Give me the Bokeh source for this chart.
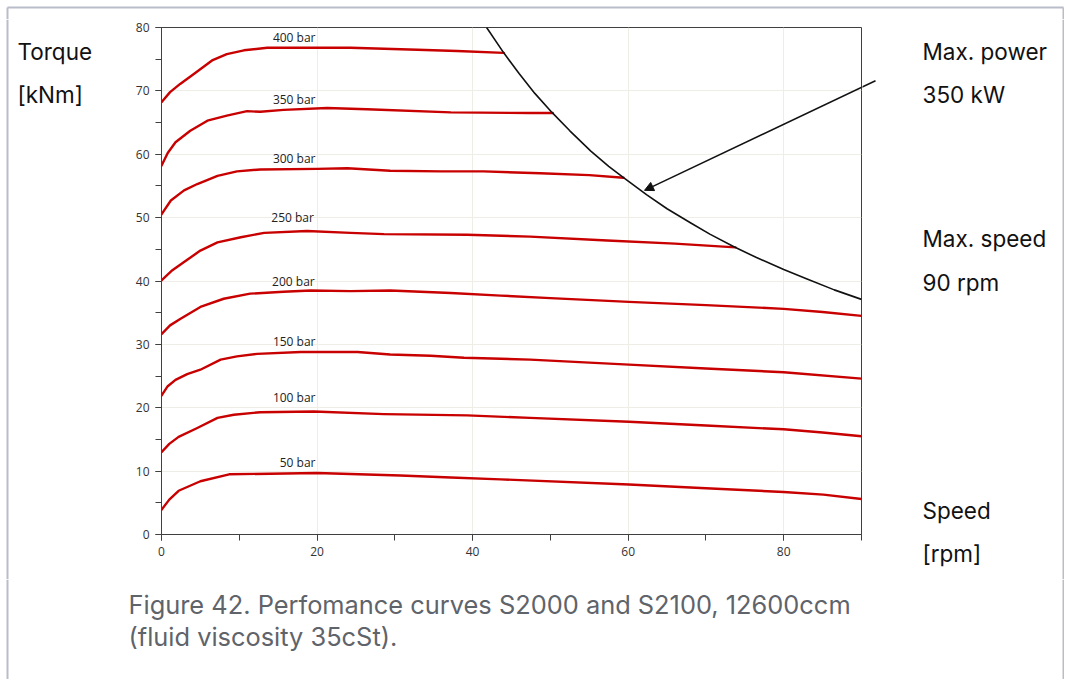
from bokeh.plotting import figure
from bokeh.layouts import column, row
from bokeh.models import Range1d, SingleIntervalTicker, Arrow, NormalHead
from bokeh.core.properties import value
from bokeh.embed import file_html
from bokeh.resources import INLINE

# ---------------- data ----------------
speed_400 = [0, 1.1, 2.4, 4.2, 6.5, 8.4, 10.6, 13.6, 18, 24.3, 32.9, 38, 44.0]
torque_400 = [68.2, 69.8, 71.1, 72.7, 74.8, 75.8, 76.4, 76.8, 76.8, 76.8, 76.5, 76.3, 76.0]

speed_350 = [0, 0.8, 1.8, 3.7, 5.9, 8.4, 11.0, 12.7, 15.7, 21.3, 26.4, 37.2, 47.4, 50.3]
torque_350 = [58.2, 60.2, 61.9, 63.7, 65.3, 66.1, 66.8, 66.7, 67.0, 67.3, 67.1, 66.6, 66.5, 66.5]

speed_300 = [0, 1.2, 2.9, 4.6, 7.2, 9.7, 12.7, 20.0, 23.9, 29.4, 35.9, 41.4, 48.7, 55, 59.4]
torque_300 = [50.5, 52.7, 54.3, 55.3, 56.6, 57.3, 57.6, 57.7, 57.8, 57.4, 57.3, 57.3, 57.0, 56.7, 56.3]

speed_250 = [0, 1.4, 2.9, 5.0, 7.2, 10.2, 13.2, 18.7, 24.3, 28.6, 39.3, 47.4, 57.3, 66, 73.8]
torque_250 = [40.1, 41.7, 43.0, 44.8, 46.1, 46.9, 47.6, 47.9, 47.6, 47.4, 47.3, 47.0, 46.4, 45.9, 45.3]

speed_200 = [0, 1.1, 2.4, 5.0, 8.0, 11.4, 15.7, 19.2, 24.3, 29.4, 37.2, 43.6, 50, 60.1, 70, 80.0, 85, 90]
torque_200 = [31.6, 33.0, 34.0, 35.9, 37.2, 38.0, 38.3, 38.5, 38.4, 38.5, 38.1, 37.7, 37.3, 36.7, 36.2, 35.6, 35.1, 34.5]

speed_150 = [0, 0.8, 1.8, 3.3, 5.0, 7.6, 9.7, 12.3, 17.9, 25.2, 29.4, 34.6, 38.9, 47.4, 60.1, 70, 80.0, 90]
torque_150 = [21.9, 23.4, 24.4, 25.3, 26.0, 27.6, 28.1, 28.5, 28.8, 28.8, 28.4, 28.2, 27.9, 27.6, 26.8, 26.2, 25.6, 24.6]

speed_100 = [0, 1.0, 2.2, 4.6, 7.2, 9.3, 12.7, 19.6, 28.6, 39.3, 47.4, 60.1, 70, 80.0, 85, 90]
torque_100 = [13.0, 14.3, 15.4, 16.8, 18.4, 18.9, 19.3, 19.4, 19.0, 18.8, 18.4, 17.8, 17.2, 16.6, 16.1, 15.5]

speed_50 = [0, 1.0, 2.2, 5.0, 8.7, 20.0, 30.7, 37.2, 43.6, 60.1, 70, 80.0, 85.1, 90]
torque_50 = [3.9, 5.5, 6.9, 8.4, 9.5, 9.7, 9.3, 9.0, 8.7, 7.9, 7.3, 6.7, 6.3, 5.6]

# max power (350 kW) limit curve
speed_power = [41.8, 44.0, 46, 48, 50.2, 52.5, 55.2, 57.5, 59.4, 62.4, 65, 68, 70.5, 73.6, 76.5, 80.0, 83, 86.5, 90]
torque_power = [80.0, 76.0, 72.7, 69.6, 66.6, 63.7, 60.5, 58.1, 56.3, 53.6, 51.4, 49.2, 47.4, 45.4, 43.7, 41.8, 40.3, 38.6, 37.1]

curve_labels = ["400 bar", "350 bar", "300 bar", "250 bar", "200 bar", "150 bar", "100 bar", "50 bar"]
label_x = [19.8, 19.8, 19.8, 19.6, 19.7, 19.8, 19.8, 19.8]
label_y = [78.4, 68.7, 59.4, 50.0, 40.0, 30.4, 21.65, 11.35]

arrow_start = (91.8, 71.6)
arrow_end = (62.1, 54.3)

x_range = (0, 90)
y_range = (0, 80)

left_texts = ["Torque", "[kNm]"]
right_texts = ["Max. power", "350 kW", "Max. speed", "90 rpm", "Speed", "[rpm]"]
caption = ["Figure 42. Perfomance curves S2000 and S2100, 12600ccm",
           "(fluid viscosity 35cSt)."]

# ---------------- layout geometry (page pixels) ----------------
TOTAL_W = 1064
TOP_H = 19
ROW_H = 560
CAP_H = 100
FRAME_L, FRAME_R, FRAME_T, FRAME_B = 161, 861, 27, 534
LEFT_W = 120
MAIN_W = FRAME_R + 1 - LEFT_W
RIGHT_W = TOTAL_W - LEFT_W - MAIN_W
BORDER_COLOR = "#b9bdc9"
BX_L, BX_R = 7, TOTAL_W - 1      # page x of left / right page border

def helper(w, h):
    f = figure(width=w, height=h, output_backend="svg", toolbar_location=None,
               x_range=Range1d(0, w), y_range=Range1d(h, 0),
               x_axis_type=None, y_axis_type=None, min_border=0)
    f.outline_line_color = None
    f.xgrid.visible = False
    f.ygrid.visible = False
    f.background_fill_color = "white"
    f.border_fill_color = "white"
    return f

# top strip with the page border
top = helper(TOTAL_W, TOP_H)
top.line([BX_L, BX_R], [7, 7], line_color=BORDER_COLOR, line_width=2)
top.line([BX_L, BX_L], [7, TOP_H], line_color=BORDER_COLOR, line_width=2)
top.line([BX_R, BX_R], [7, TOP_H], line_color=BORDER_COLOR, line_width=2)

# left text panel
left = helper(LEFT_W, ROW_H)
left.line([BX_L, BX_L], [0, ROW_H], line_color=BORDER_COLOR, line_width=2)
left.text(x=[17, 17], y=[51 - TOP_H, 94 - TOP_H], text=left_texts,
          text_font=value("Inter"), text_font_size="22.5px", text_color="#111111",
          text_align="left", text_baseline="middle")

# main chart
p = figure(width=MAIN_W, height=ROW_H, output_backend="svg", toolbar_location=None,
           x_range=Range1d(*x_range), y_range=Range1d(*y_range),
           min_border_left=FRAME_L - LEFT_W,
           min_border_right=MAIN_W - (FRAME_R - LEFT_W),
           min_border_top=FRAME_T - TOP_H,
           min_border_bottom=ROW_H - (FRAME_B - TOP_H))
p.background_fill_color = "white"
p.border_fill_color = "white"
p.outline_line_color = "#404040"
p.outline_line_width = 1

tick_font = "Open Sans"
for ax, interval in ((p.xaxis[0], 20), (p.yaxis[0], 10)):
    ax.ticker = SingleIntervalTicker(interval=interval, num_minor_ticks=2)
    ax.axis_line_color = "#404040"
    ax.major_tick_line_color = "#404040"
    ax.minor_tick_line_color = "#404040"
    ax.major_tick_in = 0
    ax.major_tick_out = 6
    ax.minor_tick_in = 0
    ax.minor_tick_out = 6
    ax.major_label_text_font = tick_font
    ax.major_label_text_font_size = "12px"
    ax.major_label_text_color = "#333333"
    ax.major_label_standoff = 6

p.xgrid.grid_line_color = "#efeee6"
p.ygrid.grid_line_color = "#efeee6"

red = "#c80000"
series = [(speed_400, torque_400), (speed_350, torque_350), (speed_300, torque_300),
          (speed_250, torque_250), (speed_200, torque_200), (speed_150, torque_150),
          (speed_100, torque_100), (speed_50, torque_50)]
for sx, ty in series:
    p.line(sx, ty, line_color=red, line_width=2.4, line_join="round", line_cap="round")

p.line(speed_power, torque_power, line_color="#111111", line_width=1.6, line_join="round")

p.text(x=label_x, y=label_y, text=curve_labels, text_font=value(tick_font),
       text_font_size="12px", text_color="#222222", text_align="right",
       text_baseline="middle")

p.add_layout(Arrow(x_start=arrow_start[0], y_start=arrow_start[1],
                   x_end=arrow_end[0], y_end=arrow_end[1],
                   line_color="#111111", line_width=1.5,
                   end=NormalHead(size=9, fill_color="#111111", line_color="#111111")))

# right text panel
right = helper(RIGHT_W, ROW_H)
rx0 = LEFT_W + MAIN_W
right.line([BX_R - rx0, BX_R - rx0], [0, ROW_H], line_color=BORDER_COLOR, line_width=2)
right_y = [51, 94, 238, 282, 510, 553]
right.text(x=[922 - rx0] * len(right_texts), y=[v - TOP_H for v in right_y],
           text=right_texts, text_font=value("Inter"), text_font_size="22.5px",
           text_color="#111111", text_align="left", text_baseline="middle")

# part of the arrow's tail that lies beyond the plot frame
def sx_page(x):
    return FRAME_L + (x - x_range[0]) / (x_range[1] - x_range[0]) * (FRAME_R - FRAME_L)
def sy_page(y):
    return FRAME_B - (y - y_range[0]) / (y_range[1] - y_range[0]) * (FRAME_B - FRAME_T)
ax0, ay0 = sx_page(arrow_start[0]), sy_page(arrow_start[1])
ax1, ay1 = sx_page(arrow_end[0]), sy_page(arrow_end[1])
cut_x = rx0 - 1
cut_y = ay0 + (cut_x - ax0) / (ax1 - ax0) * (ay1 - ay0)
right.line([cut_x - rx0, ax0 - rx0], [cut_y - TOP_H, ay0 - TOP_H],
           line_color="#111111", line_width=1.5)

# caption panel
cap = helper(TOTAL_W, CAP_H)
cy0 = TOP_H + ROW_H
cap.line([BX_L, BX_L], [0, CAP_H], line_color=BORDER_COLOR, line_width=2)
cap.line([BX_R, BX_R], [0, CAP_H], line_color=BORDER_COLOR, line_width=2)
cap.text(x=[128, 128], y=[604 - cy0, 636 - cy0], text=caption,
         text_font=value("Inter"), text_font_size="25.4px", text_color="#5f636a",
         text_align="left", text_baseline="middle")

layout = column(top, row(left, column(p), right), cap)
open("out.html", "w").write(file_html(layout, INLINE))
